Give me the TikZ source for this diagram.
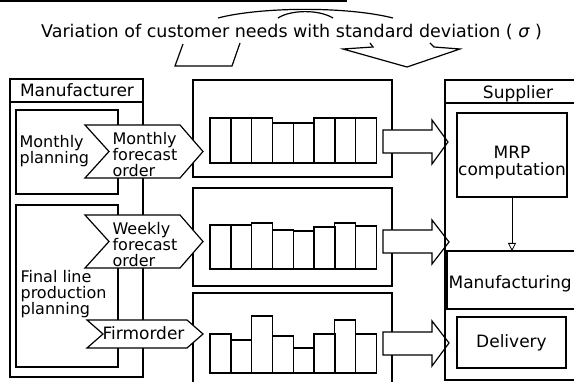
\documentclass[tikz,border=0pt]{standalone}
\usepackage{fontspec}
\setmainfont{DejaVu Sans}
\usetikzlibrary{arrows.meta}
\tikzset{
  txt/.style={font=\fontsize{17}{17}\selectfont, inner sep=1pt, align=left},
  lines/.style={txt, font=\fontsize{16}{16}\selectfont},
  tag/.style={draw, fill=white},
}

\begin{document}
\begin{tikzpicture}[x=1pt,y=-1pt,line width=1.2pt]
\useasboundingbox (0,0) rectangle (574,382);
\draw[line width=2pt] (0,1) -- (347,1);
\draw (291.5,38) node[txt,anchor=base,font=\fontsize{17.5}{17.5}\selectfont] (title) {Variation of customer needs with standard deviation ( {\itshape σ} )};
\draw (218,18) .. controls (260,7) and (345,6) .. (393,18);
\draw (278,18) .. controls (290,10) and (318,9) .. (333,18);
\draw (183,44) -- (175,66) -- (232,66) -- (240,43);
\draw (370,43) -- (373,47) -- (343,49) -- (407,67) -- (460,49) -- (434,47) -- (430,43);

\draw (10,79) rectangle (143,377);
\draw (10,102) -- (143,102);
\draw (77,90.5) node[txt] (maker) {Manufacturer};
\draw (16,110) rectangle (118,194);
\draw (18,150.8) node[lines,anchor=west] (monplan) {Monthly\\planning};
\draw (16,205) rectangle (118,367);
\draw (19,293.8) node[lines,anchor=west] (finplan) {Final line\\production\\planning};

\draw (193,80) rectangle (392,177);
\draw (193,188) rectangle (392,286);
\draw (193,382) -- (193,293) -- (392,293) -- (392,382);

\draw[tag] (85,125) -- (180,125) -- (203,151.5) -- (180,178) -- (85,178) -- (109,151.5) -- cycle;
\draw (111,154.7) node[lines,anchor=west] (monord) {Monthly\\forecast\\order};
\draw[tag] (85,215) -- (180,215) -- (203,241.5) -- (180,268) -- (85,268) -- (109,241.5) -- cycle;
\draw (111,244.7) node[lines,anchor=west] (weekord) {Weekly\\forecast\\order};
\draw[tag] (87,320) -- (187,320) -- (203,334) -- (187,348) -- (87,348) -- (103,334) -- cycle;
\draw (101,333.5) node[txt,anchor=west] (firmord) {Firmorder};

\foreach \t [count=\i from 0] in {118,118,118,123,123,118,118,118}
  \draw ({210+20.8*\i},163) rectangle ({231+20.8*\i},\t);
\foreach \t [count=\i from 0] in {225,225,223,230,231,227,223,226}
  \draw ({210+20.8*\i},269) rectangle ({231+20.8*\i},\t);
\foreach \t [count=\i from 0] in {334,340,316,336,348,334,320,334}
  \draw ({210+20.8*\i},373) rectangle ({231+20.8*\i},\t);

\draw[tag] (383,130) -- (432,130) -- (432,120) -- (448,142) -- (432,164) -- (432,153) -- (383,153) -- cycle;
\draw[tag] (383,230) -- (432,230) -- (432,220) -- (449,242) -- (432,264) -- (432,253) -- (383,253) -- cycle;
\draw[tag] (383,332) -- (432,332) -- (432,321) -- (449,343) -- (432,366) -- (432,355) -- (383,355) -- cycle;

\draw (574,80) -- (445,80) -- (445,380) -- (574,380);
\draw (445,103) -- (574,103);
\draw (518,93.5) node[txt] (supp) {Supplier};
\node[draw,minimum width=110,minimum height=84] (mrp) at (512,155) {};
\draw (512,162.3) node[txt,align=center] (mrptxt) {MRP\\computation};
\draw (574,251) -- (447,251) -- (447,309) -- (574,309);
\coordinate (mfgtop) at (512,251);
\draw (447,283.5) node[txt,anchor=west] (mfg) {Manufacturing};
\node[draw,txt,minimum width=109,minimum height=51] (deliv) at (511.5,342.5) {Delivery};
\draw[line width=0.8pt,-{Triangle[open,length=8pt,width=8pt]}] (mrp.south) -- (mfgtop);
\end{tikzpicture}
\end{document}
